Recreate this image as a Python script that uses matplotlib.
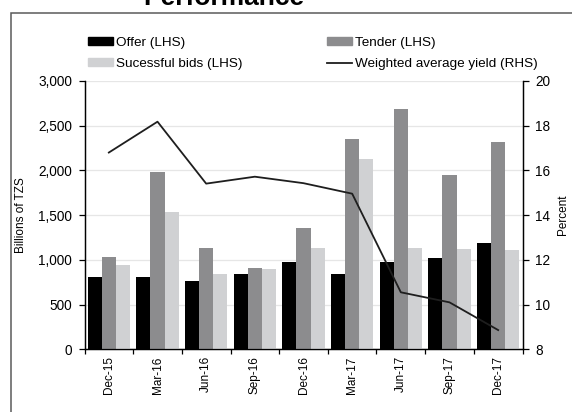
import matplotlib
matplotlib.use("Agg")
import matplotlib.pyplot as plt
import numpy as np
from matplotlib.patches import Rectangle, Patch
from matplotlib.lines import Line2D
from matplotlib.ticker import FuncFormatter, MultipleLocator

plt.rcParams['font.family'] = ['Liberation Sans', 'DejaVu Sans']

categories = ["Dec-15", "Mar-16", "Jun-16", "Sep-16", "Dec-16", "Mar-17", "Jun-17", "Sep-17", "Dec-17"]
offer = [812, 812, 760, 842, 977, 842, 977, 1025, 1186]
tender = [1030, 1980, 1130, 909, 1360, 2356, 2688, 1950, 2319]
successful = [940, 1532, 842, 898, 1137, 2125, 1130, 1118, 1110]
yield_rhs = [16.8, 18.18, 15.41, 15.72, 15.43, 14.96, 10.55, 10.1, 8.86]

c_offer = "#000000"
c_tender = "#8c8c8e"
c_succ = "#d0d1d3"
c_line = "#1e1e1e"

fig = plt.figure(figsize=(5.72, 4.12), dpi=100)
ax = fig.add_axes([84.5 / 572, 1 - 349.3 / 412, 438 / 572, 268.3 / 412])
ax2 = ax.twinx()

x = np.arange(len(categories))
w = 0.29
ax.bar(x - w, offer, w, color=c_offer, zorder=3)
ax.bar(x, tender, w, color=c_tender, zorder=3)
ax.bar(x + w, successful, w, color=c_succ, zorder=3)
ax2.plot(x, yield_rhs, color=c_line, lw=1.3, zorder=4)

ax.set_xlim(-0.5, len(categories) - 0.5)
ax.set_ylim(0, 3000)
ax.yaxis.set_major_locator(MultipleLocator(500))
ax.yaxis.set_major_formatter(FuncFormatter(lambda v, p: f"{int(v):,}"))
ax2.set_ylim(8, 20)
ax2.yaxis.set_major_locator(MultipleLocator(2))

ax.grid(axis='y', color='#e6e6e6', lw=0.9, zorder=0)
ax.set_axisbelow(True)

ax.set_xticks(x)
ax.set_xticklabels(categories, rotation=90, fontsize=8.5)
ax.set_xticks(np.arange(-0.5, len(categories)), minor=True)
ax.tick_params(axis='x', which='major', length=0, pad=5)
ax.tick_params(axis='x', which='minor', length=3.5, direction='out', width=0.9)
ax.tick_params(axis='y', labelsize=9.8, length=4, width=0.9, pad=5)
ax2.tick_params(axis='y', labelsize=9.8, length=4, width=0.9, pad=5)

for a in (ax, ax2):
    a.spines['top'].set_visible(False)
    for s in ('left', 'right', 'bottom'):
        a.spines[s].set_linewidth(0.9)

ax.set_ylabel("Billions of TZS", fontsize=8.5)
ax.yaxis.set_label_coords((27 - 84.5) / 438, 0.5)
ax2.set_ylabel("Percent", fontsize=8.5)
ax2.yaxis.set_label_coords((557 - 84.5) / 438, 0.5)

leg_kw = dict(loc='upper left', frameon=False, fontsize=9.7, handlelength=1.85,
              handleheight=0.55, handletextpad=0.23, labelspacing=0.7,
              borderpad=0, borderaxespad=0)
fig.legend([Patch(color=c_offer), Patch(color=c_succ)],
           ["Offer (LHS)", "Sucessful bids (LHS)"],
           bbox_to_anchor=(88 / 572, 0.911), **leg_kw)
fig.legend([Patch(color=c_tender), Line2D([], [], color=c_line, lw=1.3)],
           ["Tender (LHS)", "Weighted average yield (RHS)"],
           bbox_to_anchor=(327 / 572, 0.911), **leg_kw)

fig.text(224 / 572, 1 - 5 / 412, "Performance", fontsize=19, fontweight='bold',
         ha='center', va='baseline')

fig.add_artist(Rectangle((11 / 572, -0.1), 1.2, 1.1 - 13.5 / 412,
                         transform=fig.transFigure, fill=False,
                         edgecolor='#5a5a5a', lw=1.1))

fig.savefig("out.png", dpi=100)
